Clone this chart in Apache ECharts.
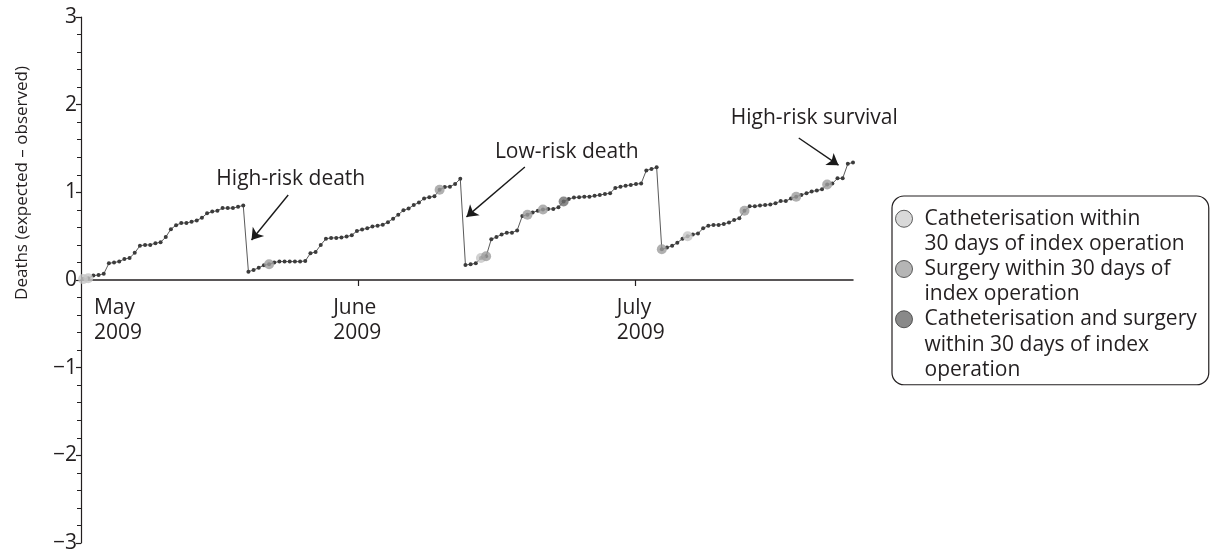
<!DOCTYPE html>
<html>
<head>
<meta charset="utf-8">
<script src="https://cdn.jsdelivr.net/npm/echarts@6/dist/echarts.min.js"></script>
<style>
  html, body { margin: 0; padding: 0; background: #ffffff; }
  #chart { width: 1211px; height: 551px; }
</style>
</head>
<body>
<div id="chart"></div>
<script>
// Cumulative (expected - observed) deaths, one value per consecutive operation
const cusum = [
  // May
  0.01, 0.02, 0.05, 0.057, 0.07, 0.19, 0.20, 0.21, 0.24, 0.25,
  0.31, 0.39, 0.40, 0.40, 0.42, 0.43, 0.49, 0.58, 0.625, 0.65,
  0.65, 0.665, 0.68, 0.71, 0.76, 0.78, 0.79, 0.82, 0.82, 0.82,
  0.835, 0.85,
  // after high-risk death
  0.095, 0.114, 0.14, 0.168, 0.18, 0.20, 0.21, 0.21, 0.21, 0.21,
  0.21, 0.217, 0.305, 0.32, 0.40, 0.47, 0.48, 0.48, 0.485, 0.495,
  0.51, 0.56, 0.575, 0.59, 0.61, 0.62, 0.63, 0.66, 0.70, 0.745,
  0.795, 0.815, 0.855, 0.885, 0.93, 0.945, 0.955, 1.03, 1.06, 1.065,
  1.095, 1.155,
  // after low-risk death
  0.17, 0.18, 0.19, 0.25, 0.27, 0.465, 0.49, 0.52, 0.54, 0.54,
  0.565, 0.73, 0.745, 0.77, 0.79, 0.805, 0.81, 0.81, 0.83, 0.895,
  0.925, 0.94, 0.945, 0.95, 0.95, 0.96, 0.97, 0.98, 0.99, 1.05,
  1.065, 1.075, 1.085, 1.095, 1.10, 1.25, 1.265, 1.285,
  // after second high-risk death
  0.35, 0.37, 0.39, 0.425, 0.47, 0.50, 0.52, 0.53, 0.59, 0.62,
  0.628, 0.628, 0.64, 0.655, 0.685, 0.705, 0.79, 0.84, 0.84, 0.85,
  0.855, 0.86, 0.875, 0.90, 0.90, 0.93, 0.95, 0.97, 0.99, 1.01,
  1.02, 1.035, 1.09, 1.10, 1.16, 1.16, 1.325, 1.34
];

// Operations followed by a further procedure within 30 days
const cathOps = [0, 1, 77, 117];
const surgeryOps = [36, 69, 78, 86, 89, 112, 128, 138, 144];
const bothOps = [93];

const groupNames = [
  'Catheterisation within\n30 days of index operation',
  'Surgery within 30 days of\nindex operation',
  'Catheterisation and surgery\nwithin 30 days of index\noperation'
];

// Month boundaries on the operation axis (labels start at the given operation)
const monthNames = ['May\n2009', 'June\n2009', 'July\n2009'];
const monthLabelAt = [2.1, 48.4, 103.3];
const monthTickAt = [53.3, 106.8];

// Annotated events: text, text anchor, arrow tail, arrow head (operation, deaths)
const eventNames = ['High-risk death', 'Low-risk death', 'High-risk survival'];
const eventTextAt = [[40.2, 1.15], [93.6, 1.46], [141.5, 1.85]];
const eventArrowFrom = [[39.7, 0.97], [85.5, 1.29], [138.5, 1.62]];
const eventArrowTo = [[32.6, 0.456], [74.2, 0.72], [146.2, 1.31]];

const INK = '#231f20';
const FONT = '"Open Sans", "DejaVu Sans", sans-serif';

const pts = idx => idx.map(i => [i, cusum[i]]);

const chart = echarts.init(document.getElementById('chart'));

chart.setOption({
  animation: false,
  backgroundColor: '#ffffff',
  textStyle: { fontFamily: FONT, color: INK },
  grid: { left: 81, right: 358, top: 17, bottom: 8, outerBoundsMode: 'none', containLabel: false },
  xAxis: {
    type: 'value',
    position: 'bottom',
    offset: -263,
    min: -0.4,
    max: cusum.length - 1,
    axisLine: { onZero: false, lineStyle: { color: INK, width: 1.5 } },
    splitLine: { show: false },
    axisTick: { show: true, customValues: monthTickAt, length: 6, lineStyle: { color: INK, width: 1.2 } },
    axisLabel: {
      customValues: monthLabelAt,
      formatter: v => {
        const k = monthLabelAt.findIndex(p => Math.abs(p - v) < 1e-6);
        return k >= 0 ? monthNames[k] : '';
      },
      align: 'left',
      fontSize: 21, lineHeight: 25, margin: 16, color: INK, fontFamily: FONT
    }
  },
  yAxis: {
    type: 'value',
    min: -3, max: 3, interval: 1,
    name: 'Deaths (expected \u2013 observed)',
    nameLocation: 'middle',
    nameGap: 50,
    nameTextStyle: { fontSize: 17, color: INK, fontFamily: FONT, padding: [0, 0, 0, 194] },
    axisLine: { show: true, onZero: false, lineStyle: { color: INK, width: 1.2 } },
    axisTick: { show: true, length: 5, lineStyle: { color: INK, width: 1.2 } },
    minorTick: { show: true, splitNumber: 5, length: 4, lineStyle: { color: INK, width: 1 } },
    splitLine: { show: false },
    axisLabel: {
      fontSize: 21, margin: 4, color: INK, fontFamily: FONT,
      formatter: v => (v < 0 ? '\u2212' + Math.abs(v) : String(v))
    }
  },
  legend: {
    orient: 'vertical',
    left: 892, top: 196,
    padding: [10, 12, 4, 3],
    borderColor: INK, borderWidth: 1.2, borderRadius: 12,
    itemWidth: 17, itemHeight: 17, itemGap: 1.5,
    icon: 'circle',
    selectedMode: false,
    data: [
      { name: groupNames[0], itemStyle: { color: '#cfcfcf', borderColor: '#3a3a3a', borderWidth: 1 } },
      { name: groupNames[1], itemStyle: { color: '#a3a3a3', borderColor: '#3a3a3a', borderWidth: 1 } },
      { name: groupNames[2], itemStyle: { color: '#6b6b6b', borderColor: '#3a3a3a', borderWidth: 1 } }
    ],
    textStyle: {
      fontSize: 21, lineHeight: 25.5, height: 25.5, padding: [0, 0, 0, 7],
      color: INK, fontFamily: FONT, rich: { t: {} }
    }
  },
  series: [
    {
      name: 'Cumulative difference',
      type: 'line',
      data: cusum.map((v, i) => [i, v]),
      symbol: 'circle', symbolSize: 4, showSymbol: true,
      lineStyle: { color: '#5a5a5a', width: 1 },
      itemStyle: { color: '#3c3c3c' },
      z: 2,
      markLine: {
        silent: true,
        symbol: ['none', 'arrow'],
        symbolSize: 11,
        lineStyle: { color: '#1a1a1a', width: 1.4, type: 'solid' },
        label: { show: false },
        data: eventNames.map((n, k) => [{ coord: eventArrowFrom[k] }, { coord: eventArrowTo[k] }])
      },
      markPoint: {
        silent: true,
        symbol: 'circle', symbolSize: 1,
        itemStyle: { color: 'rgba(0,0,0,0)' },
        label: { show: true, position: 'inside', fontSize: 21, color: INK, fontFamily: FONT, formatter: p => p.name },
        data: eventNames.map((n, k) => ({ name: n, coord: eventTextAt[k] }))
      }
    },
    { name: groupNames[0], type: 'scatter', data: pts(cathOps), symbolSize: 10, itemStyle: { color: '#c6c6c6' }, z: 3 },
    { name: groupNames[1], type: 'scatter', data: pts(surgeryOps), symbolSize: 10, itemStyle: { color: '#9c9c9c' }, z: 3 },
    { name: groupNames[2], type: 'scatter', data: pts(bothOps), symbolSize: 10, itemStyle: { color: '#6e6e6e' }, z: 3 }
  ]
});
</script>
</body>
</html>
